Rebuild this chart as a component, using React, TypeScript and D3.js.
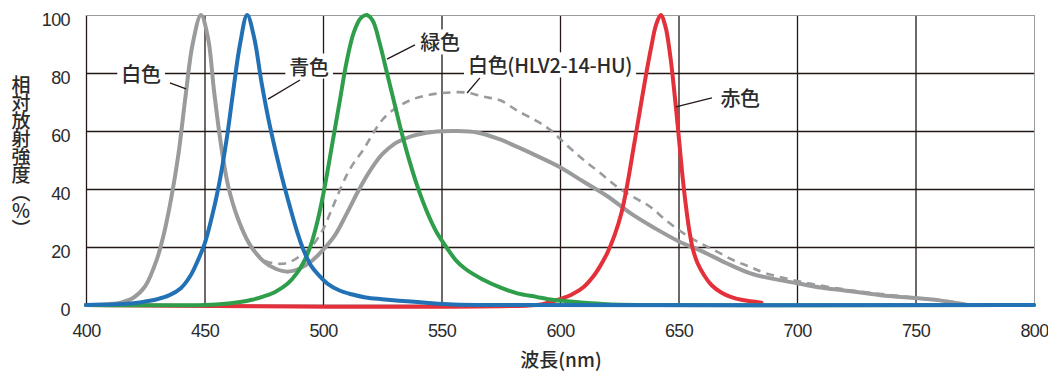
import React, { useRef, useEffect } from "react";
import * as d3 from "d3";

const wavelengthTicks = [400, 450, 500, 550, 600, 650, 700, 750, 800];
const intensityTicks = [0, 20, 40, 60, 80, 100];

// [wavelength nm, relative intensity %]
const white: [number, number][] = [
  [400, 0], [410, 0.3], [415, 0.9], [420, 2.5], [425, 6.5], [430, 16], [433, 25], [436, 37],
  [439, 52], [442, 72], [445, 90], [448.5, 100], [451.5, 92], [454, 74], [457, 55], [460, 41], [464, 30],
  [469, 21], [475, 15], [480, 12.5], [485, 11.5], [490, 12.5], [495, 15], [500, 19], [505, 24],
  [510, 31.5], [515, 39.5], [520, 46.5], [525, 52], [530, 55.5], [535, 57.5], [540, 58.8], [548, 59.8],
  [556, 60], [565, 59.5], [575, 57], [582, 54.5], [590, 51.5], [600, 47.5], [610, 42.5], [620, 37.5],
  [630, 31.5], [640, 26.5], [650, 22], [660, 18.5], [670, 14.5], [680, 11], [690, 9], [700, 7.5],
  [710, 6], [720, 5], [730, 4], [740, 3], [750, 2.4], [760, 1.6], [768, 0.6], [772, 0],
];

const whiteHLV: [number, number][] = [
  [400, 0], [410, 0.3], [415, 0.9], [420, 2.5], [425, 6.5], [430, 16], [433, 25], [436, 37],
  [439, 52], [442, 72], [445, 90], [448.5, 100], [451.5, 92], [454, 74], [457, 55], [460, 41], [464, 30],
  [469, 21], [475, 15.5], [480, 14.3], [485, 14.5], [490, 16.7], [495, 20], [500, 26],
  [503, 31.6], [506, 37.5], [510, 44.8], [513, 49], [517, 53.5], [521, 59], [525, 63.8], [530, 67.5],
  [537, 70.7], [545, 72.5], [552, 73.2], [560, 73.3], [568, 71.8], [575, 70.5], [582, 67], [590, 63.5],
  [596, 60.3], [603, 55], [610, 50], [617, 45.5], [624, 40.8], [631, 37.2], [638, 33.9], [645, 29],
  [652, 24.8], [659, 21.4], [666, 18.5], [673, 15.5], [680, 13.2], [687, 10.9], [700, 8.3], [715, 6],
  [730, 4.3], [750, 2.5], [765, 1.2], [772, 0],
];

const blue: [number, number][] = [
  [400, 0], [420, 0.6], [425, 1.2], [430, 2], [435, 3.3], [440, 5.8], [444, 10], [447, 15], [450, 21],
  [453, 30], [456, 41], [459.5, 58], [462, 73], [465, 90], [468, 100], [471, 92],
  [474, 77], [477, 64], [480, 53], [483, 43], [486, 34], [489, 25.5], [492, 18.5], [495, 13.5],
  [498, 10.5], [502, 7.3], [507, 5], [512, 3.7], [518, 2.6], [525, 2], [532, 1.5], [540, 1],
  [546, 0.6], [555, 0.2], [570, 0], [800, 0],
];

const green: [number, number][] = [
  [400, 0], [450, 0], [460, 0.5], [465, 1], [470, 1.8], [475, 3], [480, 4.6], [485, 7.3], [489, 11],
  [492, 15], [495, 21], [498, 30], [501, 42], [504, 56], [507, 70], [510, 84], [513, 94], [516, 99],
  [518.5, 100], [521, 98], [524, 90], [527, 80], [530, 70], [533, 60], [536, 51], [539, 43],
  [542, 36], [545, 30], [548, 25], [552, 20], [556, 15.5], [560, 12.5], [567, 9], [575, 6], [582, 4],
  [590, 2.8], [595, 2], [603, 1.3], [610, 0.8], [620, 0.3], [640, 0], [800, 0],
];

const red: [number, number][] = [
  [400, 0], [590, 0], [595, 0.8], [600, 2], [605, 3.6], [610, 6.2], [614, 9.8], [617, 13.5], [620, 18],
  [623, 24], [626, 32], [628.5, 42], [631, 54], [633.5, 66], [636, 78], [638.5, 89],
  [640.5, 96.5], [642.5, 100], [644.5, 96], [646.5, 86], [648.3, 73], [650, 59], [651.5, 46],
  [653, 35], [654.5, 26], [656, 19.5], [658, 14.5], [661, 10], [664, 6.8], [668, 4.3], [672, 2.8],
  [677, 1.7], [685, 0.8],
];

// text, label centre [nm, %], leader from [nm, %] to [nm, %]
const labels: { text: string; at: [number, number]; from: [number, number]; to: [number, number] }[] = [
  { text: "白色", at: [423.2, 80], from: [435.4, 76.6], to: [442.2, 74.5] },
  { text: "青色", at: [494.1, 82.4], from: [490.3, 77.6], to: [476.8, 71] },
  { text: "緑色", at: [549.4, 90.7], from: [538.8, 89.7], to: [527, 84.8] },
  { text: "白色(HLV2-14-HU)", at: [595.8, 82.8], from: [566.2, 78.3], to: [560.8, 73.1] },
  { text: "赤色", at: [676, 71.7], from: [664.1, 71.4], to: [648.9, 68.3] },
];

const GRID = "#231815";
const TEXT = "#2b2b2b";
const GREY = "#9a9b9d";

const App = () => {
  const svgRef = useRef<SVGSVGElement>(null);

  useEffect(() => {
    const svg = d3.select(svgRef.current);
    svg.selectAll("*").remove();

    const x = d3.scaleLinear().domain([400, 800]).range([86, 1034]);
    const y = d3.scaleLinear().domain([0, 100]).range([305, 15]);
    const h = y(0) - y(100);
    const w = x(800) - x(400);

    // x axis + vertical grid
    const xg = svg.append("g").attr("transform", `translate(0,${y(0)})`)
      .call(d3.axisBottom(x).tickValues(wavelengthTicks).tickSize(-h).tickPadding(19));
    xg.select(".domain").remove();
    xg.selectAll(".tick line")
      .attr("stroke", (d: any) => (d === 800 ? GREY : GRID))
      .attr("stroke-width", (d: any) => (d === 800 ? 1 : 1.3));
    xg.selectAll(".tick text")
      .attr("fill", TEXT).attr("font-size", 18).attr("letter-spacing", -0.6)
      .attr("font-family", "'Liberation Sans', Arial, sans-serif");

    // y axis + horizontal grid
    const yg = svg.append("g").attr("transform", `translate(${x(400)},0)`)
      .call(d3.axisLeft(y).tickValues(intensityTicks).tickSize(-w).tickPadding(16));
    yg.select(".domain").remove();
    yg.selectAll(".tick line")
      .attr("stroke", (d: any) => (d === 100 ? GREY : GRID))
      .attr("stroke-width", (d: any) => (d === 100 ? 1 : 1.3));
    yg.selectAll(".tick text")
      .attr("fill", TEXT).attr("font-size", 18).attr("dy", "0.6em").attr("letter-spacing", -0.6)
      .attr("font-family", "'Liberation Sans', Arial, sans-serif");

    // axis titles
    svg.append("text")
      .attr("x", 561).attr("y", 367)
      .attr("text-anchor", "middle")
      .attr("font-family", "'Noto Sans CJK JP', sans-serif")
      .attr("font-size", 19).attr("font-weight", 500).attr("fill", TEXT)
      .text("波長(nm)");

    svg.append("text")
      .attr("x", 21).attr("y", 156)
      .attr("text-anchor", "middle")
      .style("writing-mode", "vertical-rl")
      .attr("font-family", "'Noto Sans CJK JP', sans-serif")
      .attr("font-size", 19).attr("font-weight", 500).attr("fill", TEXT)
      .attr("letter-spacing", -1)
      .text("相対放射強度（％）");

    // curves
    const lineGen = d3.line<[number, number]>()
      .x(d => x(d[0]))
      .y(d => y(d[1]))
      .curve(d3.curveCatmullRom.alpha(0.5));

    const curves = svg.append("g").attr("fill", "none")
      .attr("stroke-linejoin", "round").attr("stroke-linecap", "round");
    curves.append("path").datum(white).attr("d", lineGen)
      .attr("stroke", GREY).attr("stroke-width", 4);
    curves.append("path").datum(whiteHLV).attr("d", lineGen)
      .attr("stroke", GREY).attr("stroke-width", 2.6)
      .attr("stroke-dasharray", "8 6").attr("stroke-linecap", "butt");
    curves.append("path").datum(red).attr("d", lineGen)
      .attr("stroke", "#e3303a").attr("stroke-width", 4);
    curves.append("path").datum(green).attr("d", lineGen)
      .attr("stroke", "#2f9e4b").attr("stroke-width", 4);
    curves.append("path").datum(blue).attr("d", lineGen)
      .attr("stroke", "#2371b5").attr("stroke-width", 4);

    // annotations
    const ann = svg.append("g");
    labels.forEach(l => {
      ann.append("line")
        .attr("x1", x(l.from[0])).attr("y1", y(l.from[1]))
        .attr("x2", x(l.to[0])).attr("y2", y(l.to[1]))
        .attr("stroke", GRID).attr("stroke-width", 1.3);
      const g = ann.append("g");
      const t = g.append("text")
        .attr("x", x(l.at[0])).attr("y", y(l.at[1]))
        .attr("text-anchor", "middle").attr("dominant-baseline", "central")
        .attr("font-family", "'Noto Sans CJK JP', sans-serif")
        .attr("font-size", 20).attr("font-weight", 500).attr("fill", TEXT)
        .attr("letter-spacing", -0.3)
        .text(l.text);
      const bb = (t.node() as SVGTextElement).getBBox();
      g.insert("rect", "text")
        .attr("x", bb.x - 4).attr("y", bb.y + 2)
        .attr("width", bb.width + 8).attr("height", bb.height - 4)
        .attr("fill", "#fff");
    });
  }, []);

  return (
    <svg
      ref={svgRef}
      width={1048}
      height={371}
      style={{ position: "absolute", left: 0, top: 0, background: "#fff" }}
    />
  );
};

export default App;
